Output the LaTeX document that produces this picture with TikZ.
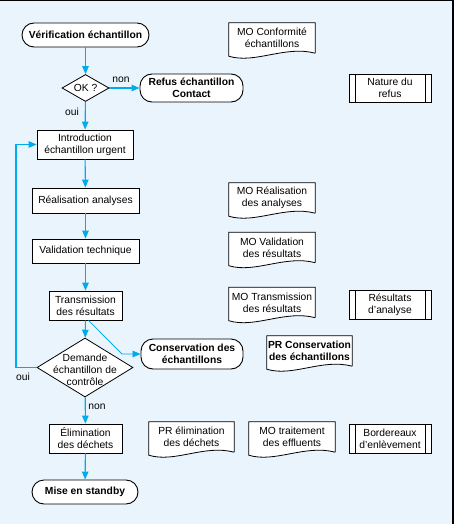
\documentclass[tikz,border=0pt]{standalone}
\usepackage{fontspec}
\setmainfont{Liberation Sans}
\usetikzlibrary{shapes.geometric,arrows.meta,calc}
\definecolor{bgblue}{RGB}{233,244,253}
\definecolor{flow}{RGB}{0,171,236}
\newcommand\docshape[1]{%
  \draw[docline] (#1.south east) -- (#1.north east) -- (#1.north west) -- ([yshift=-3pt]#1.south west)
    .. controls +(26pt,-8pt) and +(-30pt,8pt) .. (#1.south east);}
\tikzset{
  base/.style={font=\fontsize{10.3}{12}\selectfont, align=center, inner sep=1pt, line width=0.8pt, draw=black, fill=white},
  term/.style={base, rounded corners=12pt, font=\fontsize{10.3}{12}\selectfont\bfseries, line width=0.9pt},
  proc/.style={base, rectangle},
  dia/.style={base, diamond, inner sep=0pt},
  predef/.style={base, rectangle, minimum width=82pt, minimum height=29pt,
     path picture={\draw[line width=0.8pt] ([xshift=6pt]path picture bounding box.north west) -- ([xshift=6pt]path picture bounding box.south west);
                   \draw[line width=0.8pt] ([xshift=-6pt]path picture bounding box.north east) -- ([xshift=-6pt]path picture bounding box.south east);}},
  doc/.style={font=\fontsize{10.3}{12}\selectfont, align=center, inner sep=1pt, minimum width=86pt, minimum height=30pt},
  docline/.style={draw=black, fill=white, line width=0.8pt},
  arr/.style={draw=flow, line width=1.1pt, -{Triangle[length=8pt,width=6.5pt]}},
  arrthin/.style={draw=flow, line width=0.8pt, -{Triangle[length=8pt,width=6.5pt]}},
  lab/.style={font=\fontsize{10.3}{12}\selectfont, inner sep=0pt},
}
\begin{document}
\begin{tikzpicture}[x=1pt,y=-1pt]
\fill[bgblue] (0,0) rectangle (454,524);
\useasboundingbox (0,0) rectangle (454,524);
\draw[black, line width=1.5pt] (0,0.75) -- (454,0.75);
\draw[black, line width=2pt] (453,0) -- (453,524);

% flow nodes
\node[term, minimum width=127pt, minimum height=24pt] (verif) at (85.5,35) {Vérification échantillon};
\node[dia, minimum width=47pt, minimum height=27pt] (ok) at (85.5,88) {};
\node[lab] (oktext) at (ok) {OK ?};
\node[term, minimum width=103pt, minimum height=28pt] (refus) at (191.5,88) {Refus échantillon\\Contact};
\node[proc, minimum width=96pt, minimum height=29pt] (intro) at (85,144.5) {Introduction\\échantillon urgent};
\node[proc, minimum width=107pt, minimum height=25pt] (real) at (85.5,200.5) {Réalisation analyses};
\node[proc, minimum width=107pt, minimum height=24pt] (valid) at (85.5,251) {Validation technique};
\node[proc, minimum width=73pt, minimum height=29pt] (trans) at (85.5,305.5) {Transmission\\des résultats};
\node[dia, minimum width=96pt, minimum height=59pt] (dem) at (85,367.5) {};
\node[lab, align=center] (demtext) at (85,369.5) {Demande\\échantillon de\\contrôle};
\node[term, minimum width=102pt, minimum height=30pt] (cons) at (192,354) {Conservation des\\échantillons};
\node[proc, minimum width=73pt, minimum height=29pt] (elim) at (85.5,438.5) {Élimination\\des déchets};
\node[term, minimum width=106pt, minimum height=24pt] (standby) at (85,492) {Mise en standby};

% documents
\node[doc] (mo1) at (272,38) {};
\docshape{mo1}
\node[doc] at (mo1) {MO Conformité\\échantillons};
\node[doc] (mo2) at (272,198) {};
\docshape{mo2}
\node[doc] at (mo2) {MO Réalisation\\des analyses};
\node[doc] (mo3) at (272,247.5) {};
\docshape{mo3}
\node[doc] at (mo3) {MO Validation\\des résultats};
\node[doc] (mo4) at (272,302.5) {};
\docshape{mo4}
\node[doc] at (mo4) {MO Transmission\\des résultats};
\node[doc, minimum width=85pt] (pr1) at (309.5,351) {};
\docshape{pr1}
\node[doc, font=\fontsize{10.3}{12}\selectfont\bfseries] at (pr1) {PR Conservation\\des échantillons};
\node[doc, minimum width=85pt] (pr2) at (191.5,437) {};
\docshape{pr2}
\node[doc] at (pr2) {PR élimination\\des déchets};
\node[doc] (mo5) at (292,437) {};
\docshape{mo5}
\node[doc] at (mo5) {MO traitement\\des effluents};

% predefined processes
\node[predef, minimum height=28pt] (nat) at (390,88) {Nature du\\refus};
\node[predef] (res) at (390,304.5) {Résultats\\d'analyse};
\node[predef] (bord) at (390,438.5) {Bordereaux\\d'enlèvement};

% connectors
\draw[arr] (verif) -- (ok);
\draw[arr] (ok) -- (refus);
\draw[arr] (ok) -- (intro);
\draw[arr] (intro) -- (real);
\draw[arr] (real) -- (valid);
\draw[arr] (valid) -- (trans);
\draw[arr] (trans) -- (dem);
\draw[arr] (dem) -- (elim);
\draw[arr] (elim) -- (standby);
\coordinate (fbl) at (16,367.5);
\draw[arr] (dem.west) -- (fbl) |- (intro.west);
\coordinate (kink) at (122,354);
\draw[arrthin] ([xshift=3pt]trans.south) -- (kink) -- (cons.west);

% labels
\node[lab] (non1) at (121,80) {non};
\node[lab] (oui1) at (72,112) {oui};
\node[lab] (oui2) at (23,377) {oui};
\node[lab] (non2) at (97,407) {non};
\end{tikzpicture}
\end{document}
